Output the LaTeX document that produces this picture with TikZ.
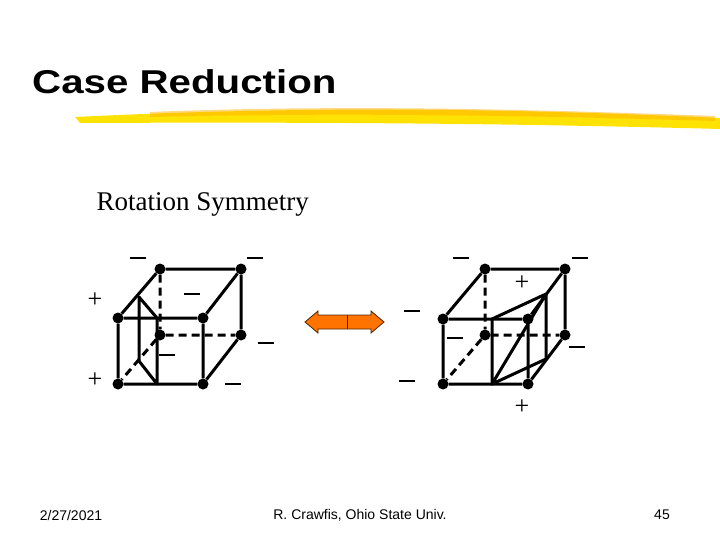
\documentclass[tikz,border=0pt]{standalone}
\usepackage{fontspec}
\setmainfont{Liberation Serif}
\newfontfamily\arial{Liberation Sans}
\begin{document}
\begin{tikzpicture}[x=1pt,y=-1pt,
 edge/.style={line width=3pt},
 hid/.style={line width=3pt,dash pattern=on 8pt off 5pt},
 dot/.style={circle,fill=black,inner sep=0pt,minimum size=11pt},
 lab/.style={font=\fontsize{26}{26}\selectfont},
 foot/.style={font=\arial\fontsize{14}{16}\selectfont}]
\useasboundingbox (0,0) rectangle (720,540);
\node[anchor=west,font=\arial\bfseries\fontsize{33}{36}\selectfont,xscale=1.22,inner sep=0pt] (title) at (32,82) {Case Reduction};
\fill[yellow!85!orange] (75,117) .. controls (300,106) and (500,108) .. (720,118) -- (720,129) .. controls (500,123) and (300,122) .. (80,123) -- cycle;
\fill[orange!60!yellow,opacity=0.5] (150,112) .. controls (350,104) and (550,110) .. (715,116) -- (715,121) .. controls (550,116) and (350,112) .. (150,117) -- cycle;
\node[anchor=west,font=\fontsize{27}{30}\selectfont] (rs) at (93,204) {Rotation Symmetry};
% left cube
\foreach \n/\x/\y in {a/118/318,b/203/318,c/118/384,d/203/384,e/160/269,f/241/269,g/160/335,h/241/335}
  \node[dot] (L\n) at (\x,\y) {};
\draw[edge] (La)--(Lb)--(Ld)--(Lc)--(La)--(Le)--(Lf)--(Lh)--(Ld) (Lb)--(Lf);
\draw[hid] (Le)--(Lg)--(Lh) (Lg)--(Lc);
\coordinate (p1) at (139,297); \coordinate (p2) at (139,361);
\coordinate (p3) at (157,318); \coordinate (p4) at (157,384);
\draw[edge,line join=round] (p1)--(p2)--(p4)--(p3)--cycle;
% right cube
\foreach \n/\x/\y in {a/443/319,b/528/319,c/443/384,d/528/384,e/485/269,f/565/269,g/485/335,h/565/335}
  \node[dot] (R\n) at (\x,\y) {};
\draw[edge] (Ra)--(Rb)--(Rd)--(Rc)--(Ra)--(Re)--(Rf)--(Rh)--(Rd) (Rb)--(Rf);
\draw[hid] (Re)--(Rg)--(Rh) (Rg)--(Rc);
\coordinate (q1) at (492,319); \coordinate (q2) at (492,384);
\coordinate (q3) at (546,294); \coordinate (q4) at (546,359);
\draw[edge,line join=round] (q1)--(q3)--(q4)--(q2)--cycle (q2)--(q3);
% labels
\foreach \x/\y [count=\i] in {138/258,255/258,192/294,167/355,266/343,233/384,461/258,580/258,412/311,455/338,577/347,407/381}
  \node[lab] (m\i) at (\x,\y) {\rule{0.6em}{1.5pt}};
\foreach \x/\y [count=\i] in {95/300,95/380,522/283,522/407}
  \node[lab] (pl\i) at (\x,\y) {+};
% arrow
\fill[orange!90!red,draw=black!70!orange,line width=0.8pt] (305,322)--(318,311)--(318,315)--(371,315)--(371,311)--(384,322)--(371,333)--(371,329)--(318,329)--(318,333)--cycle;
\draw[black!70!orange,line width=0.8pt] (347,315)--(347,329);
% footer
\node[foot] (date) at (71,515) {2/27/2021};
\node[foot] (auth) at (360,515) {R. Crawfis, Ohio State Univ.};
\node[foot] (pg) at (662,515) {45};
\end{tikzpicture}
\end{document}
